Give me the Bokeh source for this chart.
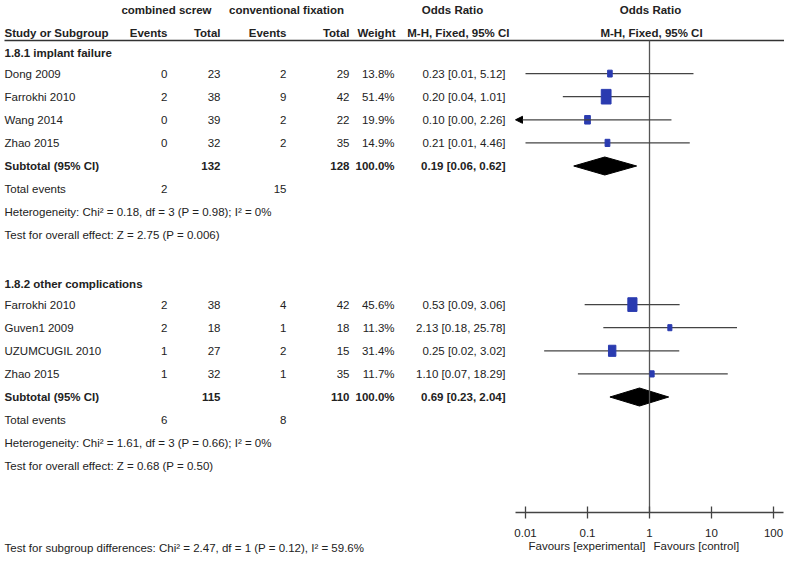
import math
from bokeh.plotting import figure
from bokeh.models import Range1d, LogScale, ColumnDataSource, Arrow, NormalHead
from bokeh.core.properties import value
from bokeh.embed import file_html
from bokeh.resources import INLINE

# ---------------- data ----------------
g1_title = "1.8.1 implant failure"
g1_study = ["Dong 2009", "Farrokhi 2010", "Wang 2014", "Zhao 2015"]
g1_ev_c = [0, 2, 0, 0]
g1_tot_c = [23, 38, 39, 32]
g1_ev_f = [2, 9, 2, 2]
g1_tot_f = [29, 42, 22, 35]
g1_weight = [13.8, 51.4, 19.9, 14.9]
g1_or = [0.23, 0.20, 0.10, 0.21]
g1_lo = [0.01, 0.04, 0.00, 0.01]
g1_hi = [5.12, 1.01, 2.26, 4.46]
g1_sub = dict(tot_c=132, tot_f=128, weight=100.0, or_=0.19, lo=0.06, hi=0.62,
              ev_c=2, ev_f=15)
g1_het = "Heterogeneity: Chi\u00b2 = 0.18, df = 3 (P = 0.98); I\u00b2 = 0%"
g1_test = "Test for overall effect: Z = 2.75 (P = 0.006)"

g2_title = "1.8.2 other complications"
g2_study = ["Farrokhi 2010", "Guven1 2009", "UZUMCUGIL 2010", "Zhao 2015"]
g2_ev_c = [2, 2, 1, 1]
g2_tot_c = [38, 18, 27, 32]
g2_ev_f = [4, 1, 2, 1]
g2_tot_f = [42, 18, 15, 35]
g2_weight = [45.6, 11.3, 31.4, 11.7]
g2_or = [0.53, 2.13, 0.25, 1.10]
g2_lo = [0.09, 0.18, 0.02, 0.07]
g2_hi = [3.06, 25.78, 3.02, 18.29]
g2_sub = dict(tot_c=115, tot_f=110, weight=100.0, or_=0.69, lo=0.23, hi=2.04,
              ev_c=6, ev_f=8)
g2_het = "Heterogeneity: Chi\u00b2 = 1.61, df = 3 (P = 0.66); I\u00b2 = 0%"
g2_test = "Test for overall effect: Z = 0.68 (P = 0.50)"

tick_values = [0.01, 0.1, 1, 10, 100]
tick_labels = ["0.01", "0.1", "1", "10", "100"]
label_left = "Favours [experimental]"
label_right = "Favours [control]"
subgroup_test = "Test for subgroup differences: Chi\u00b2 = 2.47, df = 1 (P = 0.12), I\u00b2 = 59.6%"

groups = [
    dict(title=g1_title, study=g1_study, ev_c=g1_ev_c, tot_c=g1_tot_c, ev_f=g1_ev_f,
         tot_f=g1_tot_f, weight=g1_weight, or_=g1_or, lo=g1_lo, hi=g1_hi,
         sub=g1_sub, het=g1_het, test=g1_test),
    dict(title=g2_title, study=g2_study, ev_c=g2_ev_c, tot_c=g2_tot_c, ev_f=g2_ev_f,
         tot_f=g2_tot_f, weight=g2_weight, or_=g2_or, lo=g2_lo, hi=g2_hi,
         sub=g2_sub, het=g2_het, test=g2_test),
]

# ---------------- layout ----------------
FONT = "Liberation Sans"
FS = "11.5px"
TXT = "#222222"
LINE = "#444444"
BOX = "#2a3bb0"

W, H = 784, 555
X0 = 6                   # left edge of visible span (reference px)
X1 = X0 + W
X_ONE, PX_DEC = 655, 62  # position of OR=1 and px per decade
AXIS_MIN, AXIS_MAX = 0.0069, 145
ROW0, ROW = 50, 23.1

C_NAME, C_EVC, C_TOTC, C_EVF, C_TOTF, C_W, C_OR = 10, 173, 226, 292, 355, 400, 511

def row_y(k):
    return ROW0 + ROW * k

p = figure(width=W, height=H, output_backend="svg", toolbar_location=None,
           x_range=Range1d(X0, X1), y_range=Range1d(H, 0),
           x_axis_location=None, y_axis_location=None, min_border=0,
           outline_line_color=None, background_fill_color="white",
           border_fill_color="white")
p.xgrid.visible = False
p.ygrid.visible = False
p.extra_x_ranges = {"or": Range1d(10 ** ((X0 - X_ONE) / PX_DEC), 10 ** ((X1 - X_ONE) / PX_DEC))}
p.extra_x_scales = {"or": LogScale()}

texts = {}
def add_text(x, y, s, align="left", bold=False):
    key = (align, bold)
    d = texts.setdefault(key, dict(x=[], y=[], t=[]))
    d["x"].append(x); d["y"].append(y); d["t"].append(str(s))

# headers
add_text(172, 9, "combined screw", "center", True)
add_text(292, 9, "conventional fixation", "center", True)
add_text(458, 9, "Odds Ratio", "center", True)
add_text(656, 9, "Odds Ratio", "center", True)
hy = 32
add_text(C_NAME, hy, "Study or Subgroup", "left", True)
add_text(C_EVC, hy, "Events", "right", True)
add_text(C_TOTC, hy, "Total", "right", True)
add_text(C_EVF, hy, "Events", "right", True)
add_text(C_TOTF, hy, "Total", "right", True)
add_text(C_W + 1, hy, "Weight", "right", True)
add_text(C_OR + 4, hy, "M-H, Fixed, 95% CI", "right", True)
add_text(657, hy, "M-H, Fixed, 95% CI", "center", True)
p.segment(x0=[10], y0=[40], x1=[798], y1=[40], line_color="#333333", line_width=1.5)

def fmt_or(o, l, h):
    return f"{o:.2f} [{l:.2f}, {h:.2f}]"

box_x, box_y, box_w, box_h = [], [], [], []
seg = dict(x0=[], x1=[], y=[])
k = 0
for g in groups:
    add_text(C_NAME, row_y(k) + 2, g["title"], "left", True)
    k += 1
    for i, name in enumerate(g["study"]):
        y = row_y(k)
        add_text(C_NAME, y, name)
        add_text(C_EVC, y, g["ev_c"][i], "right")
        add_text(C_TOTC, y, g["tot_c"][i], "right")
        add_text(C_EVF, y, g["ev_f"][i], "right")
        add_text(C_TOTF, y, g["tot_f"][i], "right")
        add_text(C_W, y, f"{g['weight'][i]:.1f}%", "right")
        add_text(C_OR, y, fmt_or(g["or_"][i], g["lo"][i], g["hi"][i]), "right")
        lo, hi = g["lo"][i], g["hi"][i]
        if lo < AXIS_MIN:
            p.add_layout(Arrow(end=NormalHead(size=7, fill_color="black", line_color="black"),
                               x_start=hi, y_start=y, x_end=AXIS_MIN, y_end=y,
                               x_range_name="or", line_color=LINE, line_width=1.3))
        else:
            seg["x0"].append(lo); seg["x1"].append(min(hi, AXIS_MAX)); seg["y"].append(y)
        w = 1.5 * math.sqrt(g["weight"][i]) - 1
        box_x.append(g["or_"][i]); box_y.append(y); box_w.append(w); box_h.append(w * 1.5)
        k += 1
    s = g["sub"]
    y = row_y(k)
    add_text(C_NAME, y, "Subtotal (95% CI)", "left", True)
    add_text(C_TOTC, y, s["tot_c"], "right", True)
    add_text(C_TOTF, y, s["tot_f"], "right", True)
    add_text(C_W, y, f"{s['weight']:.1f}%", "right", True)
    add_text(C_OR, y, fmt_or(s["or_"], s["lo"], s["hi"]), "right", True)
    p.patch(x=[s["lo"], s["or_"], s["hi"], s["or_"]], y=[y, y - 9, y, y + 9],
            x_range_name="or", fill_color="black", line_color="black")
    k += 1
    y = row_y(k)
    add_text(C_NAME, y, "Total events")
    add_text(C_EVC, y, s["ev_c"], "right")
    add_text(C_EVF, y, s["ev_f"], "right")
    k += 1
    add_text(C_NAME, row_y(k), g["het"])
    k += 1
    add_text(C_NAME, row_y(k), g["test"])
    k += 2

# vertical line of no effect
AX_Y = 512
p.segment(x0=[1], y0=[40], x1=[1], y1=[AX_Y], x_range_name="or",
          line_color="#555555", line_width=1.3)

# CI lines and boxes
p.segment(x0="x0", y0="y", x1="x1", y1="y", source=ColumnDataSource(seg),
          x_range_name="or", line_color=LINE, line_width=1.3)
p.rect(x=box_x, y=box_y, width=box_w, height=box_h, width_units="screen",
       height_units="screen", x_range_name="or", fill_color=BOX, line_color=BOX)

# axis
p.segment(x0=[AXIS_MIN], y0=[AX_Y], x1=[AXIS_MAX], y1=[AX_Y], x_range_name="or",
          line_color=LINE, line_width=1.5)
p.segment(x0=tick_values, y0=[AX_Y - 6] * len(tick_values), x1=tick_values,
          y1=[AX_Y + 6] * len(tick_values), x_range_name="or", line_color=LINE, line_width=1.3)
p.text(x=tick_values, y=[532] * len(tick_values), text=tick_labels, x_range_name="or",
       text_align="center", text_baseline="middle", text_font=value(FONT),
       text_font_size=FS, text_color=TXT)
p.text(x=[0.86], y=[545], text=[label_left], x_range_name="or", text_align="right",
       text_baseline="middle", text_font=value(FONT), text_font_size=FS, text_color=TXT)
p.text(x=[1.16], y=[545], text=[label_right], x_range_name="or", text_align="left",
       text_baseline="middle", text_font=value(FONT), text_font_size=FS, text_color=TXT)

add_text(C_NAME, 547, subgroup_test)

for (align, bold), d in texts.items():
    p.text(x=d["x"], y=d["y"], text=d["t"], text_align=align, text_baseline="middle",
           text_font=value(FONT), text_font_size=FS,
           text_font_style="bold" if bold else "normal", text_color=TXT)

open("out.html", "w").write(file_html(p, INLINE))
